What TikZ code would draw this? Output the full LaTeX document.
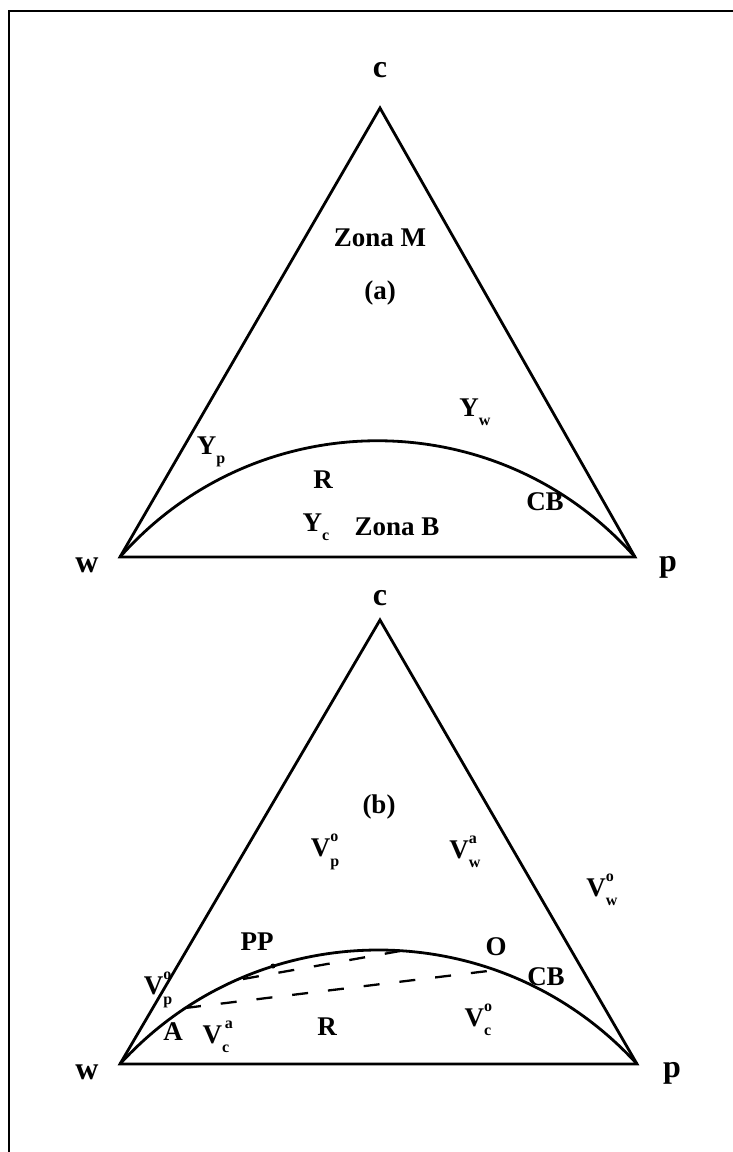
\documentclass[tikz,border=0pt]{standalone}
\usepackage{fontspec}
\setmainfont{Liberation Serif}
\usetikzlibrary{positioning}
\newcommand{\supsub}[3]{#1\rlap{\raisebox{0.55em}{\fontsize{16}{16}\selectfont #2}}\raisebox{-0.35em}{\fontsize{16}{16}\selectfont #3}}
\newcommand{\subonly}[2]{#1\raisebox{-0.35em}{\fontsize{16}{16}\selectfont #2}}
\begin{document}
\begin{tikzpicture}[x=1pt, y=-1pt, font=\bfseries\fontsize{27}{32}\selectfont]
\tikzstyle{edge}=[line width=2.8pt, line join=miter]
\tikzstyle{vtx}=[font=\bfseries\fontsize{32}{38}\selectfont]
\tikzstyle{tie}=[line width=2.3pt, dash pattern=on 16pt off 20pt]
\useasboundingbox (0,0) rectangle (733,1152);
\draw[line width=2.4pt] (9,1152) -- (9,11) -- (733,11);
% (a)
\coordinate (wa) at (120,557); \coordinate (pa) at (635,557); \coordinate (ca) at (380,108);
\draw[edge] (wa) -- (pa) -- (ca) -- cycle;
\draw[edge] (wa) .. controls (257,402) and (498,402) .. (pa);
\node[vtx] (lca) at (380,70) {c};
\node[vtx] (lwa) at (87,565) {w};
\node[vtx] (lpa) at (668,567) {p};
\node (zonaM) at (380,238) {Zona M};
\node (taga) at (380,293) {(a)};
\node (Yw) at (475,412) {\subonly{Y}{w}};
\node (Yp) at (211,452) {\subonly{Y}{p}};
\node (Ra) at (323,480) {R};
\node (CBa) at (545,502) {CB};
\node (Yc) at (316,527) {\subonly{Y}{c}};
\node (zonaB) at (397,527) {Zona B};
% (b)
\coordinate (wb) at (120,1064); \coordinate (pb) at (637,1064); \coordinate (cb) at (380,620);
\draw[edge] (wb) -- (pb) -- (cb) -- cycle;
\draw[edge] (wb) .. controls (259,912) and (498,912) .. (pb);
\coordinate (PPs) at (243,979); \coordinate (top) at (400,951);
\coordinate (As) at (185,1008); \coordinate (Os) at (496,970);
\draw[tie] (PPs) -- (top);
\draw[tie] (As) -- (Os);
\fill (273,966) circle (2.5pt);
\node[vtx] (lcb) at (380,598) {c};
\node[vtx] (lwb) at (87,1072) {w};
\node[vtx] (lpb) at (672,1073) {p};
\node (tagb) at (379,807) {(b)};
\node (Vpo) at (325,852) {\supsub{V}{o}{p}};
\node (Vwa) at (465,852) {\supsub{V}{a}{w}};
\node (Vwo) at (602,890) {\supsub{V}{o}{w}};
\node (PP) at (257,942) {PP};
\node (O) at (496,947) {O};
\node (CBb) at (546,977) {CB};
\node (Vpl) at (158,990) {\supsub{V}{o}{p}};
\node (Rb) at (327,1027) {R};
\node (Vco) at (478,1020) {\supsub{V}{o}{c}};
\node (A) at (173,1032) {A};
\node (Vca) at (216,1037) {\supsub{V}{\,a}{c}};
\end{tikzpicture}
\end{document}
